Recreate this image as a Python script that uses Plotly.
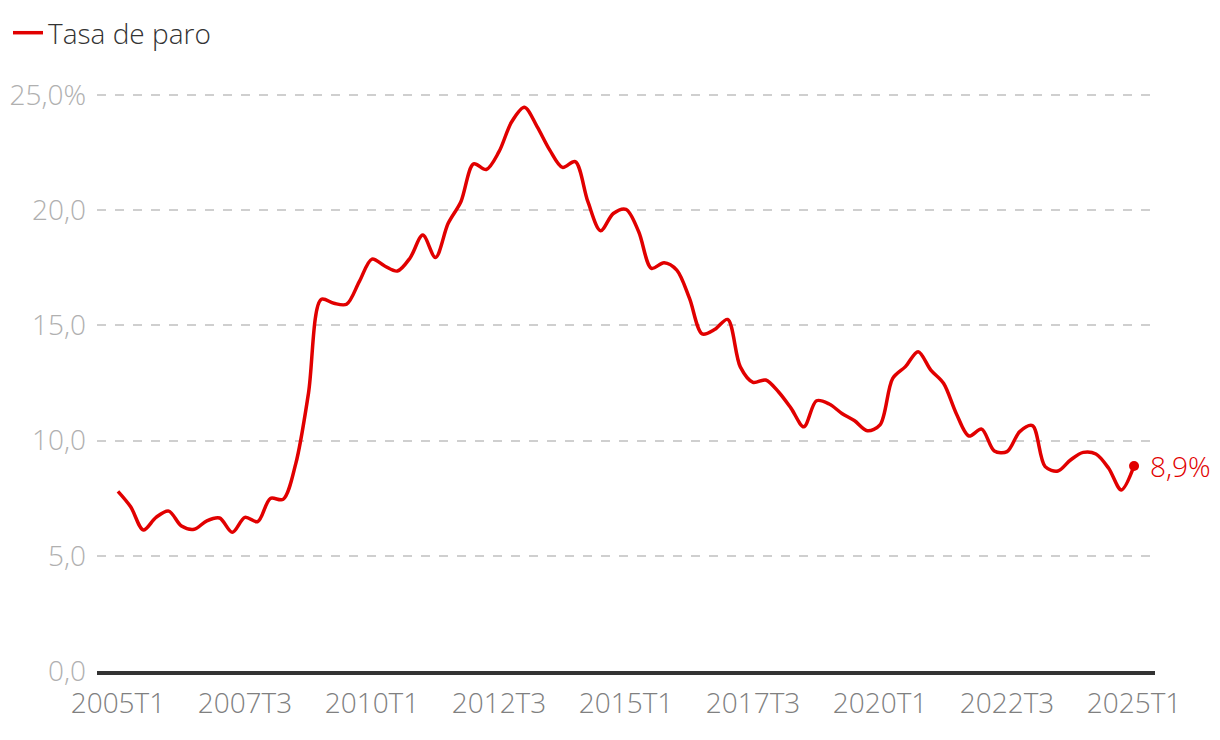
import plotly.graph_objects as go

quarters = [f"{y}T{q}" for y in range(2005, 2026) for q in range(1, 5)][:81]
tasa_paro = [7.8, 7.13, 6.12, 6.67, 6.94, 6.29, 6.15, 6.52, 6.64, 6.02,
             6.67, 6.48, 7.49, 7.45, 9.0, 12.05, 16.13, 15.96, 15.92, 16.9,
             17.88, 17.58, 17.36, 17.93, 18.92, 17.95, 19.43, 20.37, 22.01, 21.77,
             22.54, 23.84, 24.47, 23.63, 22.61, 21.86, 22.11, 20.37, 19.11, 19.86,
             20.04, 19.07, 17.48, 17.72, 17.40, 16.17, 14.63, 14.83, 15.26, 13.2,
             12.53, 12.63, 12.12, 11.40, 10.60, 11.73, 11.59, 11.18, 10.86, 10.43,
             10.68, 12.70, 13.21, 13.86, 13.06, 12.49, 11.18, 10.20, 10.50, 9.55,
             9.52, 10.39, 10.65, 8.87, 8.68, 9.16, 9.49, 9.42, 8.80, 7.86, 8.9]
x_ticks = ["2005T1", "2007T3", "2010T1", "2012T3", "2015T1", "2017T3", "2020T1", "2022T3", "2025T1"]
y_ticks = [0, 5, 10, 15, 20, 25]
y_tick_text = ["0,0", "5,0", "10,0", "15,0", "20,0", "25,0%"]

RED = "#e10000"
FONT = "Open Sans"
idx = list(range(len(quarters)))

fig = go.Figure()
fig.add_trace(go.Scatter(
    x=idx, y=tasa_paro, mode="lines", name="Tasa de paro",
    line=dict(color=RED, width=3.5, shape="spline", smoothing=0.9),
    hoverinfo="skip"))
fig.add_trace(go.Scatter(
    x=[idx[-1]], y=[tasa_paro[-1]], mode="markers", showlegend=False,
    marker=dict(color=RED, size=10), hoverinfo="skip"))
fig.add_annotation(
    x=idx[-1], y=tasa_paro[-1], text=f"{tasa_paro[-1]:.1f}%".replace(".", ","),
    showarrow=False, xanchor="left", yanchor="middle", xshift=14,
    font=dict(family=FONT, size=28, color=RED, weight=300))

fig.update_layout(
    width=1220, height=740,
    margin=dict(l=89, r=73, t=64, b=77, autoexpand=False),
    paper_bgcolor="white", plot_bgcolor="white",
    font=dict(family=FONT, size=28, weight=300),
    showlegend=True,
    legend=dict(xref="container", yref="container", x=0.0, y=1.0,
                xanchor="left", yanchor="top", orientation="h",
                font=dict(family=FONT, size=28, color="#333", weight=300),
                itemwidth=30, bgcolor="rgba(0,0,0,0)"),
    xaxis=dict(range=[-1.65, 81.65], tickvals=[quarters.index(t) for t in x_ticks],
               ticktext=x_ticks, showgrid=False, zeroline=False,
               showline=True, linecolor="#333", linewidth=4,
               ticks="", tickfont=dict(color="#808080", size=28), ticklabelstandoff=4),
    yaxis=dict(range=[0, 26], tickvals=y_ticks, ticktext=y_tick_text,
               showgrid=True, gridcolor="#cfcfcf", gridwidth=1.5, griddash="dash",
               zeroline=False, ticks="", tickfont=dict(color="#b0b0b0", size=28),
               ticklabelstandoff=10),
)
fig.write_html("out.html")
